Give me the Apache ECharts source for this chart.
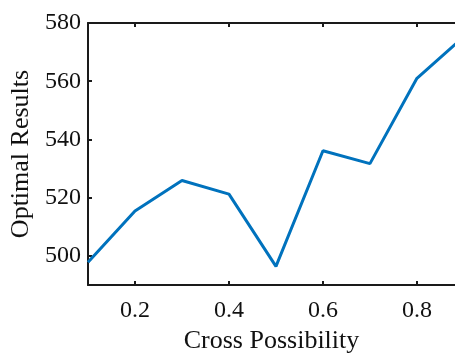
<!DOCTYPE html>
<html>
<head>
<meta charset="utf-8">
<script src="https://cdn.jsdelivr.net/npm/echarts@6/dist/echarts.min.js"></script>
<style>html,body{margin:0;padding:0;background:#fff}#c{width:455px;height:359px}</style>
</head>
<body>
<div id="c"></div>
<script>
const crossPossibility = [0.1, 0.2, 0.3, 0.4, 0.5, 0.6, 0.7, 0.8, 0.9];
const optimalResults = [497.8, 515.4, 525.9, 521.2, 496.4, 536.1, 531.7, 561.0, 575.3];
const xTicks = [0.2, 0.4, 0.6, 0.8];
const yTicks = [500, 520, 540, 560, 580];
// visible x-range is cut at the right edge of the picture
const xMin = 0.1, xMax = 0.881;

const font = 'Liberation Serif';
const chart = echarts.init(document.getElementById('c'));
const axisLine = {show: true, lineStyle: {color: '#1a1a1a', width: 2}};
const tick = {show: true, inside: true, length: 4, lineStyle: {color: '#1a1a1a', width: 2}};
chart.setOption({
  animation: false,
  backgroundColor: '#fff',
  grid: {left: 88, top: 23, bottom: 70, right: 0},
  xAxis: [{
    type: 'value', min: xMin, max: xMax, position: 'bottom',
    name: 'Cross Possibility', nameLocation: 'middle', nameGap: 43,
    nameTextStyle: {fontFamily: font, fontSize: 26, color: '#111'},
    axisLine: axisLine,
    axisTick: Object.assign({customValues: xTicks}, tick),
    axisLabel: {customValues: xTicks, fontFamily: font, fontSize: 24, color: '#111', margin: 14,
      formatter: v => v.toFixed(1)},
    splitLine: {show: false}
  }, {
    type: 'value', min: xMin, max: xMax, position: 'top',
    axisLine: axisLine,
    axisTick: Object.assign({customValues: xTicks}, tick),
    axisLabel: {show: false},
    splitLine: {show: false}
  }],
  yAxis: [{
    type: 'value', min: 490, max: 580, position: 'left',
    name: 'Optimal Results', nameLocation: 'middle', nameGap: 46,
    nameTextStyle: {fontFamily: font, fontSize: 26, color: '#111'},
    axisLine: axisLine,
    axisTick: Object.assign({customValues: yTicks}, tick),
    axisLabel: {customValues: yTicks, fontFamily: font, fontSize: 24, color: '#111', margin: 7},
    splitLine: {show: false}
  }],
  series: [{
    type: 'line',
    data: crossPossibility.map((x, i) => [x, optimalResults[i]]),
    showSymbol: false,
    symbol: 'none',
    lineStyle: {color: '#0072BD', width: 3},
    clip: true
  }]
});
</script>
</body>
</html>
